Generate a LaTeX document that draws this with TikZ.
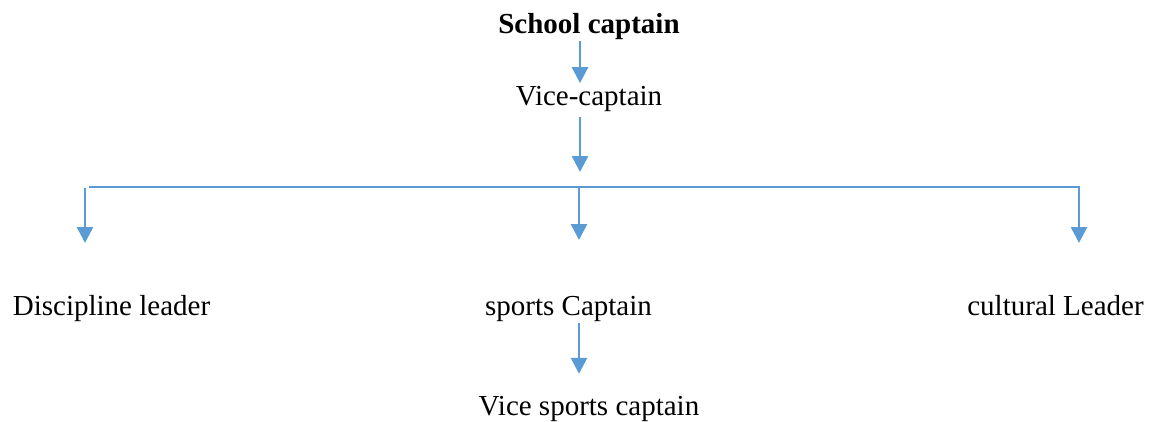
\documentclass[tikz,border=0pt]{standalone}
\usepackage{fontspec}
\setmainfont{Liberation Serif}
\usepackage{tikz}
\usetikzlibrary{arrows.meta, positioning, calc}
\definecolor{linkblue}{HTML}{5B9BD5}

\begin{document}
\begin{tikzpicture}[
    x=0.75pt, y=-0.75pt,
    role/.style={anchor=base, inner sep=1pt, text height=15.2pt, text depth=4.8pt, font=\fontsize{21.75}{26}\selectfont},
    arrow/.style={-{Triangle[width=12pt, length=12pt]}, draw=linkblue, line width=2pt},
    bar/.style={draw=linkblue, line width=1pt}
]
\useasboundingbox (0,0) rectangle (1159,421);

% Nodes
\node[role] (captain) at (589,33) {\textbf{School captain}};
\node[role] (vice) at (589,105) {Vice-captain};
\node[role] (discipline) at (111.5,315) {Discipline leader};
\node[role] (sports) at (568.5,315) {sports Captain};
\node[role] (cultural) at (1055.5,315) {cultural Leader};
\node[role] (vicesports) at (589,415) {Vice sports captain};

% Branch points
\coordinate (split) at (580,172);
\coordinate (barL) at (89,187);
\coordinate (barR) at (1080,187);
\coordinate (dropL) at (85,188);
\coordinate (dropM) at (579,187);
\coordinate (dropR) at (1079,187);
\coordinate (tipL) at (85,243);
\coordinate (tipM) at (579,240);
\coordinate (tipR) at (1079,243);

% Arrows
\draw[arrow] (captain.south -| split) -- (vice.north -| split);
\draw[arrow, shorten <=3pt] (vice.south -| split) -- (split);
\draw[bar] (barL) -- (barR);
\draw[arrow] (dropL) -- (tipL);
\draw[arrow] (dropM) -- (tipM);
\draw[arrow] (dropR) -- (tipR);
\draw[arrow, shorten >=14.5pt] (sports.south -| dropM) -- (vicesports.north -| dropM);

\end{tikzpicture}
\end{document}
